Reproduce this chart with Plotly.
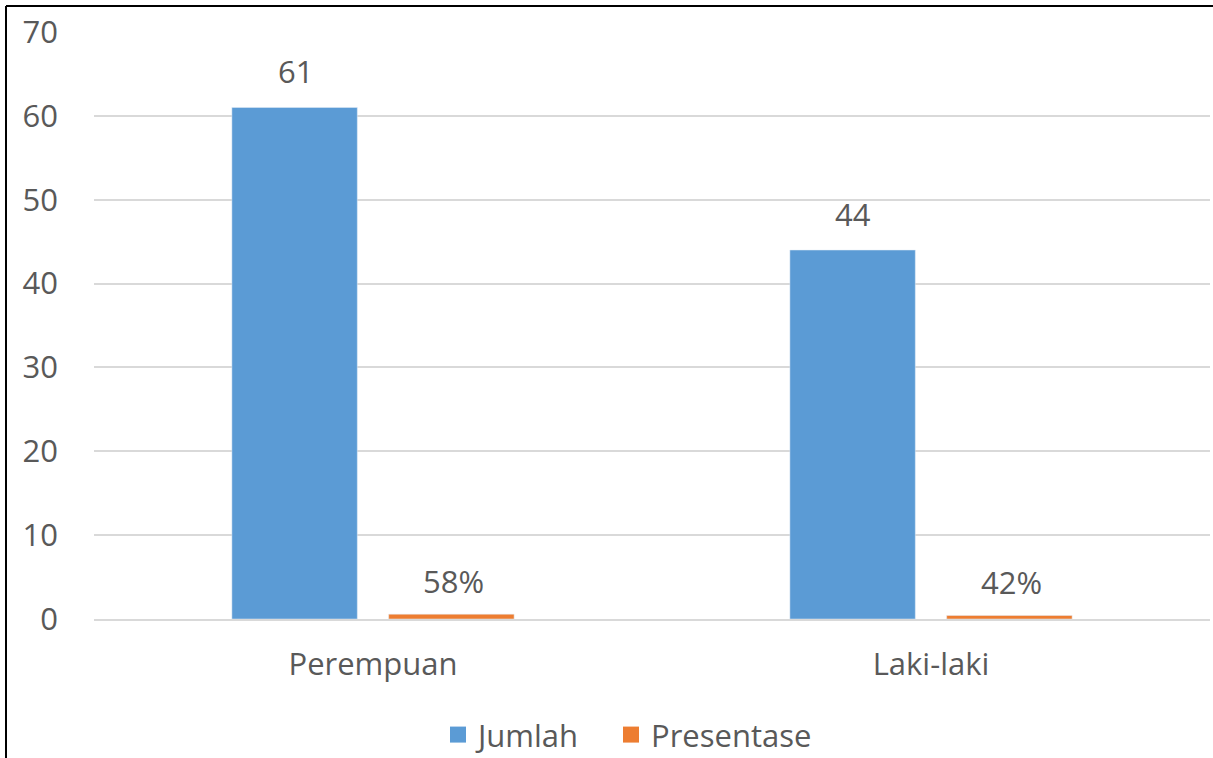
import plotly.graph_objects as go

categories = ["Perempuan", "Laki-laki"]
jumlah = [61, 44]
presentase = [0.58, 0.42]
presentase_labels = ["58%", "42%"]
y_ticks = [0, 10, 20, 30, 40, 50, 60, 70]

BLUE = "#5B9BD5"
ORANGE = "#ED7D31"
TXT = "#595959"
FONT = "Open Sans"
FS = 31

L, R, T, B = 94, 3, 32, 139
W, H = 1213, 758
PW, PH = W - L - R, H - T - B

fig = go.Figure()
fig.add_trace(go.Bar(name="Jumlah", x=categories, y=jumlah, marker_color=BLUE,
                     showlegend=False))
fig.add_trace(go.Bar(name="Presentase", x=categories, y=presentase, marker_color=ORANGE,
                     showlegend=False))
# legend proxies
fig.add_trace(go.Scatter(name="Jumlah", x=[None], y=[None], mode="markers", legend="legend",
                         marker=dict(symbol="square", size=20, color=BLUE)))
fig.add_trace(go.Scatter(name="Presentase", x=[None], y=[None], mode="markers", legend="legend2",
                         marker=dict(symbol="square", size=20, color=ORANGE)))

annotations = []
for i, c in enumerate(categories):
    annotations.append(dict(x=c, y=jumlah[i], xshift=-78, yshift=13, text=str(jumlah[i]),
                            showarrow=False, yanchor="bottom", xref="x", yref="y",
                            font=dict(family=FONT, size=FS, color=TXT)))
    annotations.append(dict(x=c, y=presentase[i], xshift=80, yshift=10, text=presentase_labels[i],
                            showarrow=False, yanchor="bottom", xref="x", yref="y",
                            font=dict(family=FONT, size=FS, color=TXT)))

bx = (6 - L) / PW
ty = (H - B - 6) / PH
leg_common = dict(orientation="h", xanchor="left", y=-0.1515, yanchor="top",
                  font=dict(family=FONT, size=FS, color=TXT), itemwidth=30,
                  bgcolor="rgba(0,0,0,0)")
fig.update_layout(
    width=W, height=H,
    margin=dict(l=L, r=R, t=T, b=B, autoexpand=False),
    paper_bgcolor="white", plot_bgcolor="white",
    barmode="group", bargap=0.438, bargroupgap=0.2,
    font=dict(family=FONT, size=FS, color=TXT),
    annotations=annotations,
    legend=dict(x=(438 - L) / PW, **leg_common),
    legend2=dict(x=(611 - L) / PW, **leg_common),
    shapes=[
        dict(type="line", xref="paper", yref="paper", x0=bx, x1=bx,
             y0=-B / PH, y1=ty, line=dict(color="black", width=2)),
        dict(type="line", xref="paper", yref="paper", x0=bx, x1=1.01,
             y0=ty, y1=ty, line=dict(color="black", width=2)),
    ],
)
fig.update_xaxes(showline=True, linecolor="#d9d9d9", linewidth=2, ticks="", automargin=False,
                 ticklabelstandoff=17, tickfont=dict(family=FONT, size=FS, color=TXT))
fig.update_yaxes(range=[0, 70], tickvals=y_ticks, showgrid=True, gridcolor="#d9d9d9",
                 gridwidth=2, zeroline=False, ticks="", ticklabelstandoff=35, automargin=False,
                 tickfont=dict(family=FONT, size=FS, color=TXT))

fig.write_html("out.html")
